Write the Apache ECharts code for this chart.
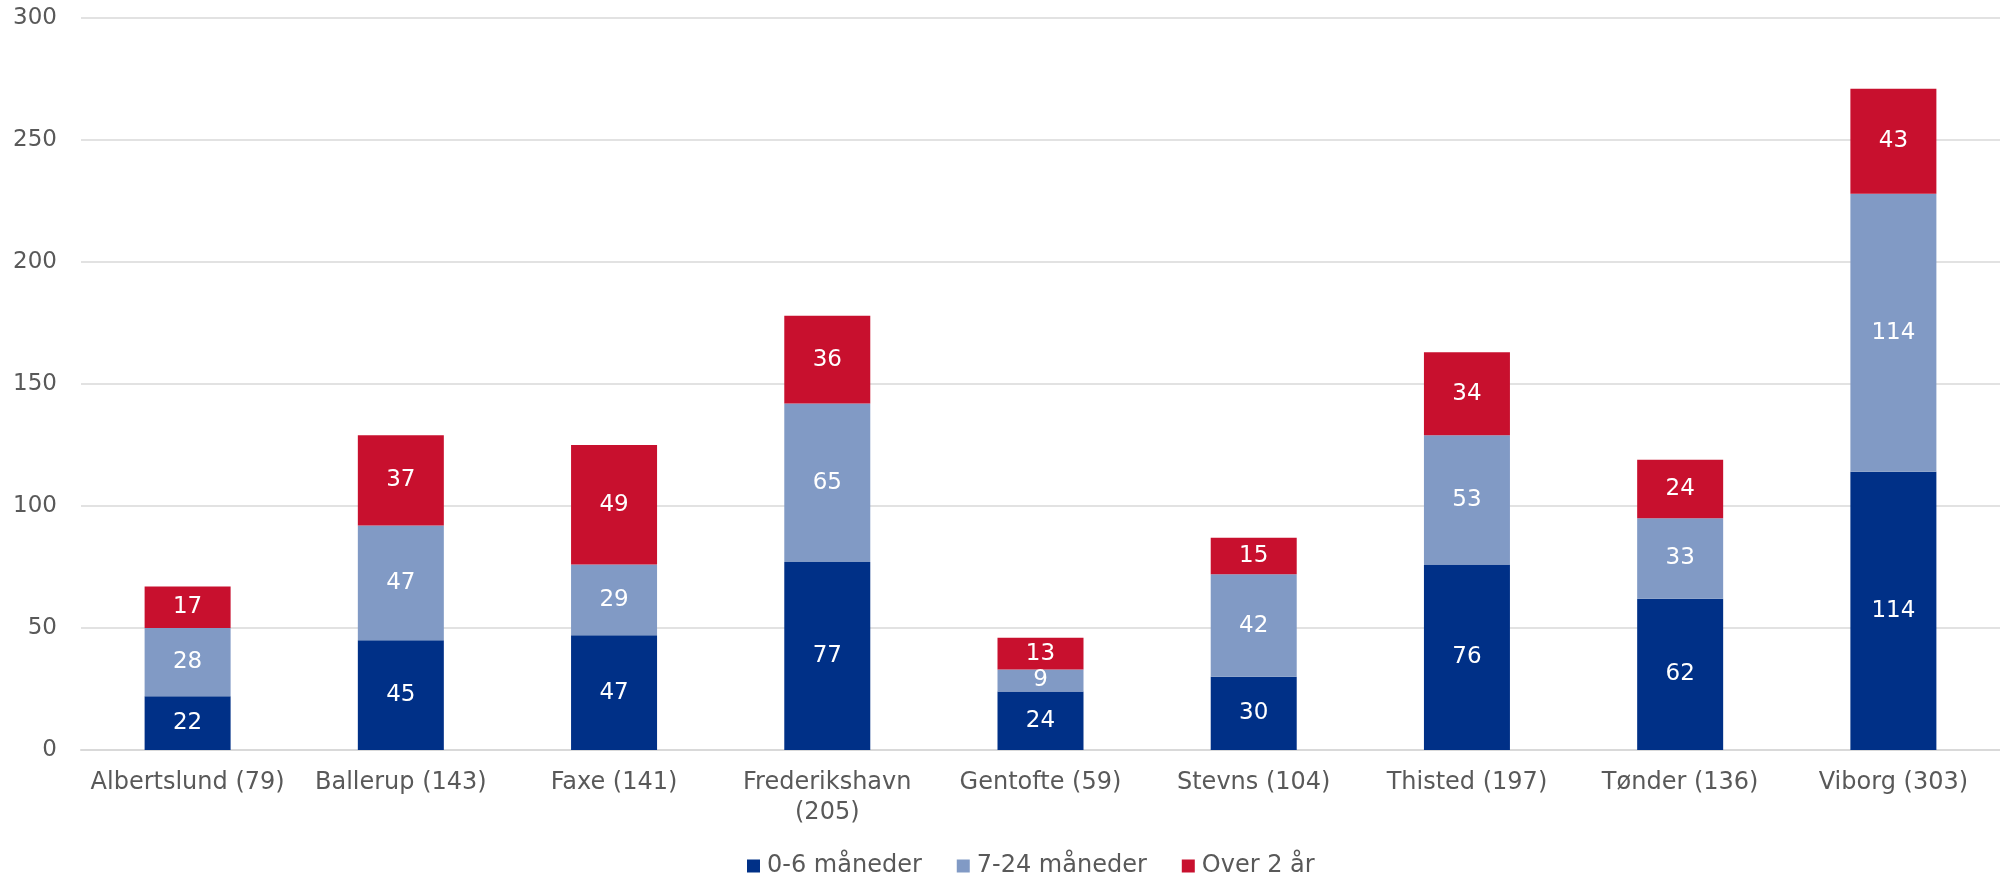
<!DOCTYPE html>
<html>
<head>
<meta charset="utf-8">
<script src="https://cdn.jsdelivr.net/npm/echarts@6/dist/echarts.min.js"></script>
<style>
  html, body { margin: 0; padding: 0; background: #fff; }
  #chart { width: 2000px; height: 876px; }
</style>
</head>
<body>
<div id="chart"></div>
<script>
  // data
  var categories = ['Albertslund (79)', 'Ballerup (143)', 'Faxe (141)', 'Frederikshavn\n(205)',
    'Gentofte (59)', 'Stevns (104)', 'Thisted (197)', 'Tønder (136)', 'Viborg (303)'];
  var seriesNames = ['0-6 måneder', '7-24 måneder', 'Over 2 år'];
  var months0to6 = [22, 45, 47, 77, 24, 30, 76, 62, 114];
  var months7to24 = [28, 47, 29, 65, 9, 42, 53, 33, 114];
  var over2years = [17, 37, 49, 36, 13, 15, 34, 24, 43];
  var yTicks = { min: 0, max: 300, interval: 50 };

  var colors = ['#003087', '#819ac5', '#c8102e'];
  var font = '"DejaVu Sans", Verdana, sans-serif';

  var myChart = echarts.init(document.getElementById('chart'));

  function barSeries(name, data, color) {
    return {
      name: name,
      type: 'bar',
      stack: 'total',
      barWidth: 86,
      data: data,
      itemStyle: { color: color },
      label: {
        show: true,
        position: 'inside',
        color: '#ffffff',
        fontFamily: font,
        fontSize: 23
      }
    };
  }

  var option = {
    animation: false,
    backgroundColor: '#ffffff',
    grid: {
      left: 81,
      right: -16,
      top: 18,
      bottom: 126
    },
    legend: {
      data: seriesNames,
      left: 742,
      top: 849,
      itemWidth: 13,
      itemHeight: 13,
      itemGap: 35,
      icon: 'rect',
      textStyle: {
        color: '#595959',
        fontFamily: font,
        fontSize: 24,
        padding: [0, 0, 0, 2]
      }
    },
    xAxis: {
      type: 'category',
      data: categories,
      axisLine: { lineStyle: { color: '#d9d9d9', width: 2 } },
      axisTick: { show: false },
      axisLabel: {
        color: '#595959',
        fontFamily: font,
        fontSize: 24,
        lineHeight: 30,
        margin: 18,
        interval: 0
      }
    },
    yAxis: {
      type: 'value',
      min: yTicks.min,
      max: yTicks.max,
      interval: yTicks.interval,
      axisLine: { show: false },
      axisTick: { show: false },
      splitLine: { lineStyle: { color: '#d9d9d9', width: 1.5 } },
      axisLabel: {
        color: '#595959',
        fontFamily: font,
        fontSize: 23,
        margin: 24
      }
    },
    series: [
      barSeries(seriesNames[0], months0to6, colors[0]),
      barSeries(seriesNames[1], months7to24, colors[1]),
      barSeries(seriesNames[2], over2years, colors[2])
    ]
  };
  myChart.setOption(option, true);
</script>
</body>
</html>
